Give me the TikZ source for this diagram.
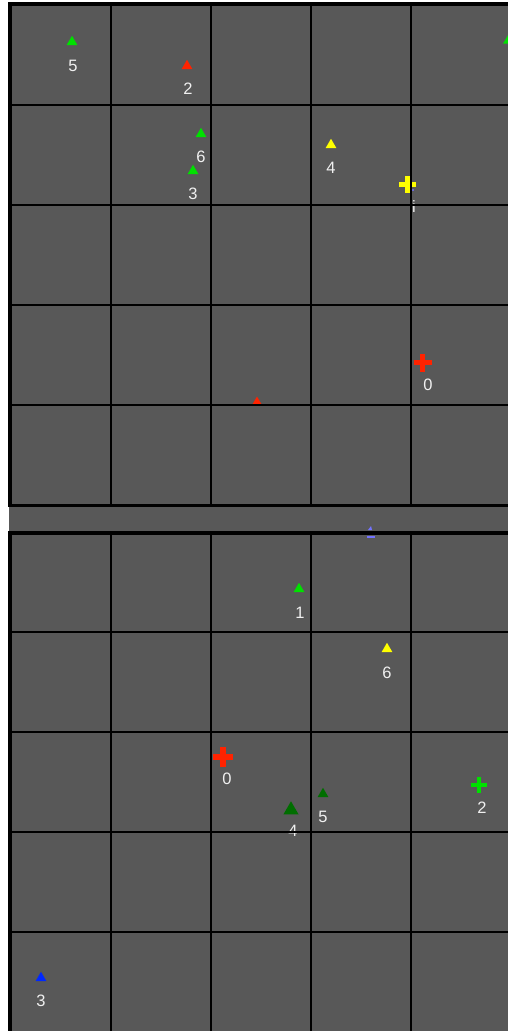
\documentclass[tikz,border=0pt]{standalone}
\usepackage{fontspec}
\setmainfont{Liberation Sans}
\usetikzlibrary{shapes.geometric}
\definecolor{bggray}{RGB}{88,88,88}
\definecolor{mygreen}{RGB}{0,225,0}
\definecolor{myred}{RGB}{255,35,0}
\definecolor{myyellow}{RGB}{255,255,0}
\definecolor{dkgreen}{RGB}{0,110,0}
\definecolor{myblue}{RGB}{0,40,255}
\definecolor{lavender}{RGB}{115,115,255}
\definecolor{labwhite}{RGB}{240,240,240}
\tikzset{
  tri/.style={regular polygon, regular polygon sides=3, fill=#1, draw=none,
    inner sep=0pt, minimum size=12.5pt},
  lab/.style={text=labwhite, font=\fontsize{16.5}{16.5}\selectfont, inner sep=0pt},
  gridline/.style={line width=2pt, draw=black},
  panelframe/.style={line width=3.5pt, draw=black},
  pics/plus/.style args={#1/#2/#3}{code={
    \draw[#1, line width=#3] (-#2,0) -- (#2,0) (0,-#2) -- (0,#2);}},
}
\begin{document}
\begin{tikzpicture}[x=1pt,y=-1pt]
\useasboundingbox (0,0) rectangle (508,1031);
\fill[white] (0,0) rectangle (508,1031);
\fill[bggray] (9,2) rectangle (508,1031);
\clip (0,0) rectangle (508,1031);

% ---------- top panel markers ----------
\node[tri=mygreen] (t5) at (72,42) {};
\node[lab] (l5) at (73,66) {5};
\node[tri=myred] (t2) at (187,66) {};
\node[lab] (l2) at (188,89) {2};
\node[tri=mygreen] (t6) at (201,134) {};
\node[lab] (l6) at (201,157) {6};
\node[tri=mygreen] (t3) at (193,171) {};
\node[lab] (l3) at (193,194) {3};
\node[tri=myyellow] (t4) at (331,145) {};
\node[lab] (l4) at (331,168) {4};
\node[tri=mygreen] (tr) at (508.5,40.5) {};
\fill[lavender] (406,190) circle (1.2pt) (413,190) circle (1.2pt);
\coordinate (c1) at (407.5,184.5);
\pic at (c1) {plus={myyellow/8.5/4.5pt}};
\node[lab] (l1) at (414,207) {i};
\coordinate (c0) at (422.5,362.5);
\pic at (c0) {plus={myred/9/5.5pt}};
\node[lab] (l0) at (428,385) {0};
\node[tri=myred, minimum size=10pt] (tsmall) at (257,401.5) {};

% ---------- bottom panel markers ----------
\node[tri=mygreen] (b1) at (299,589) {};
\node[lab] (bl1) at (300,613) {1};
\node[tri=myyellow] (b6) at (387,649) {};
\node[lab] (bl6) at (387,673) {6};
\coordinate (bc0) at (223,757);
\pic at (bc0) {plus={myred/10/6pt}};
\node[lab] (bl0) at (227,779) {0};
\node[tri=dkgreen, minimum size=17.5pt] (b4) at (291,810) {};
\node[lab] (bl4) at (293,831) {4};
\node[tri=dkgreen] (b5) at (323,794) {};
\node[lab] (bl5) at (323,817) {5};
\coordinate (bc2) at (479,785);
\pic at (bc2) {plus={mygreen/8/4pt}};
\node[lab] (bl2) at (482,808) {2};
\node[tri=myblue] (b3) at (41,978) {};
\node[lab] (bl3) at (41,1001) {3};
\fill[lavender] (368,530) -- (371,526) -- (372,530) -- cycle;

% ---------- grids ----------
\foreach \x in {111,211,311,411} {
  \draw[gridline] (\x,4) -- (\x,506);
  \draw[gridline] (\x,533) -- (\x,1035);
}
\foreach \y in {105,205,305,405} \draw[gridline] (10,\y) -- (515,\y);
\foreach \y in {632,732,832,932} \draw[gridline] (10,\y) -- (515,\y);
\draw[panelframe] (10,4) rectangle (515,505.5);
\draw[panelframe] (10,533) rectangle (515,1040);
\draw[lavender, line width=2pt] (367,536.5) -- (375,536.5);
\end{tikzpicture}
\end{document}
